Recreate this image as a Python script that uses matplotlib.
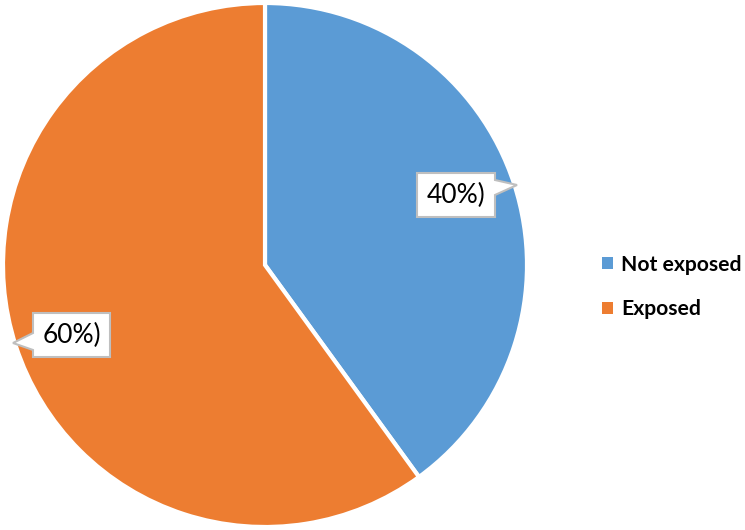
import matplotlib
matplotlib.use("Agg")
import matplotlib.pyplot as plt
from matplotlib.patches import Polygon

categories = ['Not exposed', 'Exposed']
shares = [40, 60]
label_texts = ['40%)', '60%)']
colors = ['#5B9BD5', '#ED7D31']

W, H = 745, 530
cx, cy, r = 265, 265, 262

fig = plt.figure(figsize=(W / 100, H / 100), dpi=100)
ax = fig.add_axes([(cx - r) / W, (H - cy - r) / H, 2 * r / W, 2 * r / H])
wedges, _ = ax.pie(shares, colors=colors, startangle=90, counterclock=False,
                   wedgeprops=dict(edgecolor='white', linewidth=3))
for w in wedges:
    w.set_clip_on(False)
ax.set_xlim(-1, 1)
ax.set_ylim(-1, 1)
ax.set_aspect('equal')
ax.axis('off')


def px(x, y):
    # pixel position -> pie data coords
    return ((x - cx) / r, (cy - y) / r)


# callout boxes (box corners, pointer base, pointer tip) in pixels
callouts = [
    dict(box=(417, 173, 495, 217), side='right', base=(180, 195), tip=(517, 185)),
    dict(box=(33, 313, 110, 357), side='left', base=(333, 350), tip=(13, 343)),
]

for txt, c in zip(label_texts, callouts):
    x0, y0, x1, y1 = c['box']
    b0, b1 = c['base']
    tx, ty = c['tip']
    if c['side'] == 'right':
        pts = [(x0, y0), (x1, y0), (x1, b0), (tx, ty), (x1, b1), (x1, y1), (x0, y1)]
    else:
        pts = [(x0, y0), (x1, y0), (x1, y1), (x0, y1), (x0, b1), (tx, ty), (x0, b0)]
    poly = Polygon([px(*p) for p in pts], closed=True, facecolor='white',
                   edgecolor='#BFBFBF', linewidth=1.5, zorder=5, clip_on=False)
    ax.add_patch(poly)
    mx, my = px((x0 + x1) / 2, (y0 + y1) / 2)
    ax.text(mx, my, txt, ha='center', va='center', fontsize=19,
            family='Lato', color='#000000', zorder=6)

leg = fig.legend(wedges, categories, loc='center left',
                 bbox_to_anchor=(602 / W, (H - 287) / H), frameon=False,
                 borderpad=0, borderaxespad=0,
                 handlelength=0.5, handleheight=0.5, handletextpad=0.4,
                 labelspacing=1.15,
                 prop=dict(family='Lato', weight='bold', size=15.2))
for h in leg.legend_handles:
    h.set_edgecolor('none')

fig.savefig('out.png', dpi=100)
